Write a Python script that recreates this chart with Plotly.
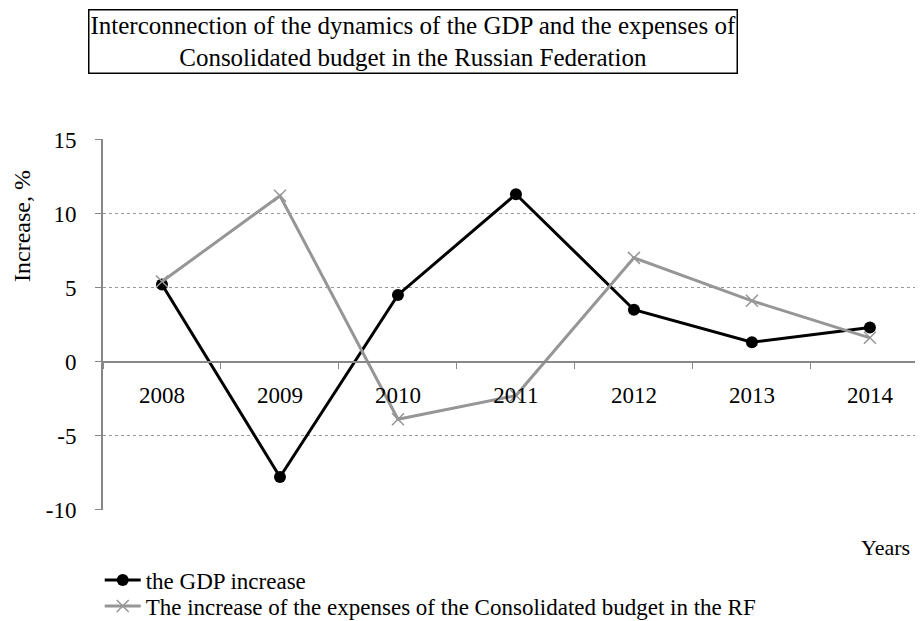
import plotly.graph_objects as go

years = ["2008", "2009", "2010", "2011", "2012", "2013", "2014"]
gdp_increase = [5.2, -7.8, 4.5, 11.3, 3.5, 1.3, 2.3]
budget_increase = [5.4, 11.2, -3.9, -2.3, 7.0, 4.1, 1.6]
y_ticks = [-10, -5, 0, 5, 10, 15]

FONT = "Liberation Serif, Times New Roman, serif"
GRAY = "#969696"

fig = go.Figure()
fig.add_trace(go.Scatter(
    x=years, y=gdp_increase, mode="lines+markers",
    name="the GDP increase", legend="legend",
    line=dict(color="black", width=3),
    marker=dict(symbol="circle", size=12, color="black"),
))
fig.add_trace(go.Scatter(
    x=years, y=budget_increase, mode="lines+markers",
    name="The increase of the expenses of the Consolidated budget in the RF",
    legend="legend2",
    line=dict(color=GRAY, width=3),
    marker=dict(symbol="x-thin", size=12, line=dict(color=GRAY, width=1.5), color=GRAY),
))

legend_common = dict(
    xanchor="left", yanchor="middle",
    font=dict(family=FONT, size=23, color="black"),
    bgcolor="rgba(0,0,0,0)", itemwidth=36,
)

# plot area: x 103..923, y 139..510 in window pixels (8px page margin)
fig.update_layout(
    width=915, height=613,
    margin=dict(l=95, r=0, t=131, b=111, autoexpand=False),
    paper_bgcolor="white", plot_bgcolor="white",
    font=dict(family=FONT, size=22, color="black"),
    showlegend=True,
    legend=dict(x=-0.004, y=-0.189, **legend_common),
    legend2=dict(x=-0.004, y=-0.259, **legend_common),
    xaxis=dict(
        type="category", range=[-0.5, 6.45],
        anchor="free", position=0.4,
        showline=True, linecolor="#888888", linewidth=2,
        ticks="outside", ticklen=6, tickcolor="#888888", tickwidth=1,
        tickson="boundaries", showgrid=False, zeroline=False,
        tickfont=dict(family=FONT, size=23, color="black"),
        ticklabelstandoff=13,
    ),
    yaxis=dict(
        range=[-10.03, 15.03], tickvals=y_ticks, ticktext=[str(v) for v in y_ticks],
        showline=True, linecolor="#888888", linewidth=2,
        ticks="outside", ticklen=6, tickcolor="#888888",
        showgrid=True, gridcolor="#999999", gridwidth=1, griddash="dot",
        zeroline=False,
        tickfont=dict(family=FONT, size=23, color="black"),
        ticklabelstandoff=14,
    ),
    annotations=[
        dict(
            text="Interconnection of the dynamics of the GDP and the expenses of<br>Consolidated budget in the Russian Federation",
            xref="paper", yref="paper", x=0.378, y=1.262,
            xanchor="center", yanchor="middle", showarrow=False,
            font=dict(family=FONT, size=25, color="black"),
            bordercolor="black", borderwidth=1.5, borderpad=1, bgcolor="white",
        ),
        dict(
            text="Increase, %", xref="paper", yref="paper",
            x=-0.099, y=0.765, xanchor="center", yanchor="middle",
            textangle=-90, showarrow=False,
            font=dict(family=FONT, size=24, color="black"),
        ),
        dict(
            text="Years", xref="paper", yref="paper",
            x=0.987, y=-0.102, xanchor="right", yanchor="middle",
            showarrow=False,
            font=dict(family=FONT, size=22, color="black"),
        ),
    ],
)

fig.write_html("out.html")
